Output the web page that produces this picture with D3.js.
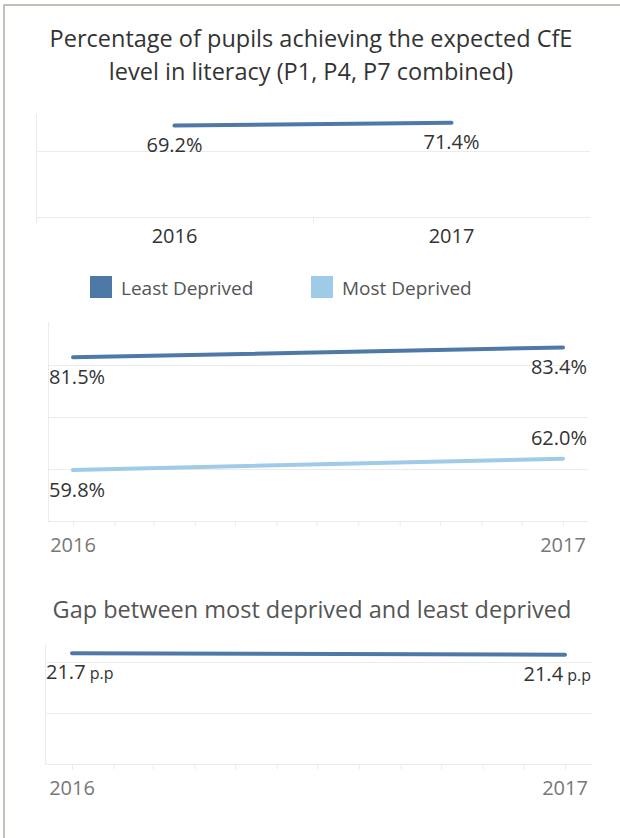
<!DOCTYPE html>
<html>
<head>
<meta charset="utf-8">
<script src="https://cdn.jsdelivr.net/npm/d3@7"></script>
<style>
  body { margin: 0; background: #fff; }
  svg { display: block; font-family: "Open Sans", "Noto Sans", sans-serif; }
</style>
</head>
<body>
<svg id="chart" width="620" height="838"></svg>
<script>
// values
const years = ['2016', '2017'];
const allPupils = [69.2, 71.4];
const leastDeprived = [81.5, 83.4];
const mostDeprived = [59.8, 62.0];
const gapValues = [21.7, 21.4];
const seriesNames = ['Least Deprived', 'Most Deprived'];
const seriesColors = ['#4e79a7', '#a0cbe8'];

const svg = d3.select('#chart');
const gridColor = '#ebebeb';

// frame on the left and top
svg.append('path')
  .attr('d', 'M4,838 L4,5 L620,5')
  .attr('fill', 'none')
  .attr('stroke', '#c4c0b7')
  .attr('stroke-width', 2);

// ---- title
const title = svg.append('text')
  .attr('text-anchor', 'middle')
  .attr('fill', '#333')
  .style('font-size', '23.5px');
title.append('tspan').attr('x', 311).attr('y', 47)
  .text('Percentage of pupils achieving the expected CfE');
title.append('tspan').attr('x', 311).attr('y', 80)
  .text('level in literacy (P1, P4, P7 combined)');

// ---- chart 1: all pupils by year (discrete years)
const x1 = d3.scaleBand().domain(years).range([36, 590]);
const y1 = d3.scaleLinear().domain([0, 78]).range([217, 114]);

const g1 = svg.append('g');
g1.selectAll('line.grid')
  .data([50, 0])
  .join('line')
  .attr('x1', 36).attr('x2', 590)
  .attr('y1', d => Math.round(y1(d)) + 0.5).attr('y2', d => Math.round(y1(d)) + 0.5)
  .attr('stroke', gridColor);
g1.append('line')
  .attr('x1', 36.5).attr('x2', 36.5)
  .attr('y1', 114).attr('y2', 223)
  .attr('stroke', gridColor);
// divider between the year columns
g1.selectAll('line.div')
  .data(years.slice(1))
  .join('line')
  .attr('x1', d => Math.round(x1(d)) + 0.5).attr('x2', d => Math.round(x1(d)) + 0.5)
  .attr('y1', 217).attr('y2', 223)
  .attr('stroke', gridColor);

const pts1 = years.map((yr, i) => ({ yr, v: allPupils[i] }));
g1.append('path')
  .datum(pts1)
  .attr('fill', 'none')
  .attr('stroke', seriesColors[0])
  .attr('stroke-width', 4)
  .attr('stroke-linecap', 'round')
  .attr('d', d3.line()
    .x(d => x1(d.yr) + x1.bandwidth() / 2)
    .y(d => y1(d.v)));

g1.selectAll('text.val')
  .data(pts1)
  .join('text')
  .attr('x', d => x1(d.yr) + x1.bandwidth() / 2)
  .attr('y', d => y1(d.v) + 26)
  .attr('text-anchor', 'middle')
  .attr('fill', '#333')
  .style('font-size', '20px')
  .text(d => d.v.toFixed(1) + '%');

g1.selectAll('text.yr')
  .data(years)
  .join('text')
  .attr('x', d => x1(d) + x1.bandwidth() / 2)
  .attr('y', 243)
  .attr('text-anchor', 'middle')
  .attr('fill', '#333')
  .style('font-size', '20px')
  .text(d => d);

// ---- legend
const legendX = [90, 311];
const legend = svg.append('g')
  .selectAll('g')
  .data(seriesNames)
  .join('g')
  .attr('transform', (d, i) => `translate(${legendX[i]},276)`);
legend.append('rect')
  .attr('width', 22).attr('height', 22)
  .attr('fill', (d, i) => seriesColors[i]);
legend.append('text')
  .attr('x', 31).attr('y', 19)
  .attr('fill', '#555')
  .style('font-size', '19px')
  .text(d => d);

// helper for the continuous (monthly) time axis used by the two lower charts
const parseYear = d3.timeParse('%Y');

function timeChart(opts) {
  const { left, right, top, bottom, x0, x1r, yDomain, gridVals, series, fmt, yearY } = opts;
  const x = d3.scaleTime()
    .domain([parseYear(years[0]), parseYear(years[years.length - 1])])
    .range([x0, x1r]);
  const y = d3.scaleLinear().domain(yDomain).range([bottom, top]);
  const g = svg.append('g');

  g.selectAll('line.grid')
    .data(gridVals)
    .join('line')
    .attr('x1', left).attr('x2', right)
    .attr('y1', d => Math.round(y(d)) + 0.5).attr('y2', d => Math.round(y(d)) + 0.5)
    .attr('stroke', gridColor);
  g.append('line')
    .attr('x1', left + 0.5).attr('x2', left + 0.5)
    .attr('y1', top).attr('y2', bottom)
    .attr('stroke', gridColor);

  const axis = d3.axisBottom(x)
    .ticks(d3.timeMonth.every(1))
    .tickSize(5)
    .tickFormat(() => '');
  const ax = g.append('g')
    .attr('transform', `translate(0,${Math.round(bottom) + 0.5})`)
    .call(axis);
  ax.select('.domain').remove();
  ax.selectAll('.tick line').attr('stroke', gridColor);

  g.selectAll('text.yr')
    .data(years)
    .join('text')
    .attr('x', d => x(parseYear(d)))
    .attr('y', yearY)
    .attr('text-anchor', 'middle')
    .attr('fill', '#777')
    .style('font-size', '20px')
    .text(d => d);

  series.forEach(s => {
    const pts = years.map((yr, i) => ({ date: parseYear(yr), v: s.values[i] }));
    g.append('path')
      .datum(pts)
      .attr('fill', 'none')
      .attr('stroke', s.color)
      .attr('stroke-width', 4)
      .attr('stroke-linecap', 'round')
      .attr('d', d3.line().x(d => x(d.date)).y(d => y(d.v)));

    pts.forEach((p, i) => {
      const t = g.append('text')
        .attr('y', y(p.v) + s.offsets[i])
        .attr('fill', '#333')
        .style('font-size', '20px');
      fmt(t, p.v);
      // centre on the point, then keep it inside the pane
      const w = t.node().getComputedTextLength();
      let cx = x(p.date) - w / 2;
      cx = Math.max(left + 1, Math.min(right - 1 - w, cx));
      t.attr('x', cx);
    });
  });
}

// ---- chart 2: least vs most deprived
timeChart({
  left: 48, right: 588, top: 322, bottom: 521,
  x0: 73, x1r: 563,
  yDomain: [50, 88.3],
  gridVals: [80, 70, 60, 50],
  yearY: 552,
  fmt: (t, v) => t.text(v.toFixed(1) + '%'),
  series: [
    { values: leastDeprived, color: seriesColors[0], offsets: [27, 27] },
    { values: mostDeprived, color: seriesColors[1], offsets: [27, -14] }
  ]
});

// ---- chart 3: gap
svg.append('text')
  .attr('x', 312).attr('y', 618)
  .attr('text-anchor', 'middle')
  .attr('fill', '#555')
  .style('font-size', '23.5px')
  .text('Gap between most deprived and least deprived');

timeChart({
  left: 45, right: 592, top: 644, bottom: 764,
  x0: 72, x1r: 565,
  yDomain: [0, 23.5],
  gridVals: [20, 10, 0],
  yearY: 795,
  fmt: (t, v) => {
    t.append('tspan').text(v.toFixed(1));
    t.append('tspan').style('font-size', '16px').text(' p.p');
  },
  series: [
    { values: gapValues, color: seriesColors[0], offsets: [26, 26] }
  ]
});
</script>
</body>
</html>
